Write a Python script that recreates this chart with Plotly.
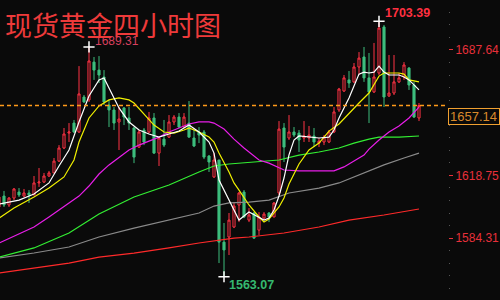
import plotly.graph_objects as go

# ---- data ----
idx = list(range(85))
opens = [1601.4,1607.4,1602.5,1606.3,1609.6,1607.4,1609.1,1608.0,1614.6,1615.1,
         1618.4,1620.1,1626.6,1633.8,1642.0,1647.5,1642.6,1661.8,1660.2,1681.0,
         1676.6,1672.8,1657.4,1654.7,1648.1,1655.8,1650.3,1644.8,1634.3,1643.7,
         1642.6,1650.3,1631.0,1638.7,1639.8,1648.1,1650.8,1645.3,1647.5,1639.3,
         1642.6,1642.6,1629.4,1617.9,1627.2,1582.1,1584.9,1590.4,1602.5,1609.6,
         1594.2,1598.1,1588.7,1595.3,1598.1,1595.9,1609.1,1644.8,1639.3,1642.6,
         1642.0,1639.3,1639.3,1640.4,1636.5,1637.1,1637.1,1642.6,1654.7,1665.1,
         1671.2,1670.1,1678.3,1683.8,1672.3,1664.6,1675.0,1700.3,1662.4,1664.0,
         1670.1,1672.8,1677.7,1668.4,1650.3]
highs = [1608.0,1610.2,1606.9,1611.8,1611.8,1611.3,1610.7,1618.4,1622.8,1620.1,
         1621.2,1628.3,1635.4,1644.8,1647.5,1649.2,1678.8,1662.9,1689.31,1683.8,
         1684.3,1676.6,1660.2,1656.3,1656.3,1656.3,1656.3,1645.3,1643.7,1644.8,
         1653.6,1653.0,1639.8,1649.2,1651.9,1651.9,1653.0,1653.0,1659.6,1643.7,
         1645.3,1643.7,1629.9,1631.0,1627.2,1592.6,1598.1,1604.1,1609.6,1610.7,
         1600.8,1598.6,1598.6,1598.6,1598.6,1604.1,1648.6,1647.5,1651.9,1645.3,
         1643.7,1648.6,1645.9,1644.8,1639.3,1640.9,1643.7,1656.3,1666.8,1673.9,
         1676.1,1680.5,1686.5,1689.3,1686.0,1691.5,1703.39,1701.4,1684.9,1684.9,
         1675.0,1681.0,1678.3,1670.1,1658.5]
lows = [1600.8,1601.4,1601.4,1605.2,1606.9,1606.9,1603.6,1608.0,1612.4,1614.6,
        1617.9,1620.1,1626.1,1633.2,1637.1,1642.0,1642.0,1658.5,1659.1,1671.2,
        1669.5,1657.4,1645.3,1643.7,1632.7,1646.4,1643.7,1625.5,1633.8,1635.4,
        1642.0,1630.5,1623.9,1634.3,1639.3,1646.4,1644.8,1644.8,1639.3,1634.3,
        1636.5,1627.7,1620.6,1617.3,1570.6,1563.07,1575.0,1589.8,1593.1,1595.3,
        1593.1,1583.8,1586.0,1594.2,1593.1,1595.9,1608.0,1626.1,1638.2,1639.8,
        1631.6,1637.1,1637.1,1634.3,1634.3,1635.4,1636.5,1642.0,1653.6,1664.6,
        1666.8,1669.5,1673.9,1670.1,1647.5,1664.0,1673.9,1656.3,1661.8,1662.9,
        1669.5,1671.2,1665.7,1650.3,1648.6]
closes = [1606.9,1602.5,1606.3,1611.3,1608.0,1609.1,1608.0,1614.6,1615.1,1618.4,
          1620.1,1626.6,1633.8,1641.5,1642.6,1642.6,1663.5,1659.1,1681.6,1676.6,
          1673.9,1659.1,1654.7,1647.5,1649.7,1650.8,1647.5,1628.8,1642.6,1637.1,
          1650.3,1631.0,1639.3,1635.4,1648.1,1650.8,1645.3,1650.8,1639.8,1634.9,
          1640.9,1628.8,1626.1,1627.2,1582.1,1577.8,1594.2,1601.9,1609.1,1595.9,
          1597.0,1584.3,1595.9,1597.5,1595.9,1603.6,1644.2,1634.3,1642.6,1640.9,
          1638.2,1640.4,1640.9,1637.1,1637.6,1639.8,1642.6,1653.6,1666.2,1672.3,
          1669.5,1678.3,1683.2,1672.3,1664.6,1672.8,1699.7,1661.8,1664.0,1670.1,
          1672.3,1679.4,1668.4,1650.8,1657.14]

ma_white_x = [0,4,7,10,12,14,16,18,20,21,22,24,26,28,30,32,34,36,38,40,42,43,44,46,48,50,52,53,54,55,56,57,58,59,60,62,64,66,67,68,69,70,71,72,73,74,75,76,77,78,80,81,82,84]
ma_white_y = [1603.0,1605.2,1608.5,1614.6,1623.9,1632.7,1648.1,1662.4,1671.2,1672.3,1666.7,1655.8,1648.1,1643.7,1641.5,1639.8,1641.5,1643.1,1646.4,1642.6,1637.1,1631.0,1616.2,1605.2,1594.2,1598.6,1595.9,1594.2,1595.3,1599.7,1607.4,1617.3,1630.0,1638.2,1640.4,1639.8,1639.3,1639.8,1643.7,1650.3,1655.8,1661.3,1667.8,1674.4,1675.5,1675.0,1675.5,1678.8,1675.5,1673.9,1673.9,1672.8,1671.2,1665.7]

ma_yellow_x = [0,3,7,10,13,15,16,18,20,22,24,26,27,29,31,33,35,37,38,40,42,43,44,46,47,48,50,52,53,54,56,57,58,60,62,64,66,68,70,72,74,76,77,78,80,81,82,84]
ma_yellow_y = [1595.3,1600.8,1606.9,1611.8,1617.9,1627.2,1637.1,1650.3,1656.9,1660.2,1661.3,1660.2,1658.5,1652.5,1646.4,1642.6,1642.0,1643.7,1644.8,1642.6,1639.8,1637.1,1631.0,1620.6,1614.6,1610.7,1602.5,1595.9,1593.1,1594.8,1601.4,1606.3,1614.0,1625.0,1632.7,1636.5,1643.1,1647.0,1653.0,1658.5,1664.0,1673.3,1675.0,1675.0,1675.0,1674.4,1671.2,1670.1]

ma_magenta_x = [0,7,10,14,16,18,20,22,24,26,28,30,32,34,36,38,40,42,43,45,47,49,52,54,57,60,64,67,68,69,71,73,74,76,78,80,82,84]
ma_magenta_y = [1581.6,1590.4,1595.9,1603.6,1607.4,1612.9,1619.5,1624.5,1628.8,1632.7,1635.4,1637.6,1639.8,1642.6,1644.8,1647.0,1648.1,1648.1,1647.5,1644.2,1638.7,1633.8,1627.2,1625.5,1621.7,1621.2,1621.2,1621.2,1622.3,1623.4,1626.6,1629.9,1633.2,1638.2,1642.6,1645.9,1650.3,1656.3]

ma_green_x = [0,7,14,20,27,34,40,43,46,52,56,60,64,68,71,74,76,80,84]
ma_green_y = [1573.9,1578.9,1587.1,1597.5,1606.9,1613.5,1620.6,1623.9,1625.0,1626.1,1627.2,1629.9,1631.6,1633.8,1636.5,1638.7,1639.8,1639.8,1640.4]

ma_gray_x = [0,7,14,20,27,34,40,43,46,50,54,58,64,68,72,77,81,84]
ma_gray_y = [1573.4,1576.1,1579.4,1584.9,1589.8,1594.2,1598.1,1601.9,1603.6,1604.1,1605.2,1609.1,1611.8,1614.6,1619.0,1624.5,1628.3,1631.0]

ma_red_x = [0,7,14,20,27,34,40,47,50,57,64,70,77,84]
ma_red_y = [1565.1,1567.9,1570.6,1573.9,1576.1,1578.9,1581.6,1584.3,1584.9,1587.1,1590.4,1594.2,1597.0,1600.3]

tick_vals = [1584.31, 1618.75, 1687.64]
tick_text = ["1584.31", "1618.75", "1687.64"]
bottom_tick_val = 1549.87
bottom_tick = "1549.87"
last_price = 1657.14
title_text = "现货黄金四小时图"
hi1 = (18, 1689.31)
hi2 = (76, 1703.39)
lo1 = (45, 1563.07)

BG = "#0a0a0a"
UP = "#ff3344"
DOWN = "#3dbd7d"
AXRED = "#e8303a"
FONT = "Liberation Sans, Arial, sans-serif"

fig = go.Figure()

for xs, ys, col in [
    (ma_red_x, ma_red_y, "#ff2a2a"),
    (ma_gray_x, ma_gray_y, "#8a8a8a"),
    (ma_green_x, ma_green_y, "#33ee33"),
    (ma_magenta_x, ma_magenta_y, "#e81ee8"),
    (ma_yellow_x, ma_yellow_y, "#f0f000"),
    (ma_white_x, ma_white_y, "#ffffff"),
]:
    fig.add_trace(go.Scatter(x=xs, y=ys, mode="lines",
                             line=dict(color=col, width=1.2), hoverinfo="skip"))

fig.add_trace(go.Candlestick(
    x=idx, open=opens, high=highs, low=lows, close=closes,
    increasing=dict(line=dict(color=UP, width=1), fillcolor=BG),
    decreasing=dict(line=dict(color=DOWN, width=1), fillcolor=DOWN),
    whiskerwidth=0, hoverinfo="skip"))

fig.add_trace(go.Scatter(
    x=[hi1[0], hi2[0], lo1[0]], y=[hi1[1], hi2[1], lo1[1]], mode="markers",
    marker=dict(symbol="cross-thin", size=8, line=dict(color="white", width=1.5)),
    hoverinfo="skip"))

# last price dashed line
fig.add_shape(type="line", xref="paper", x0=0, x1=1, yref="y", y0=last_price, y1=last_price,
              line=dict(color="#ff9a1a", width=1.3, dash="4px,3px"))

ann = []
ann.append(dict(text=f"{hi1[1]:.2f}", x=hi1[0], y=hi1[1], xanchor="left", yanchor="middle",
                xshift=4, yshift=6, showarrow=False,
                font=dict(family=FONT, size=12, color="#d8405e")))
ann.append(dict(text=title_text, xref="paper", x=0, xanchor="left", xshift=3,
                yref="paper", y=1, yanchor="top", yshift=-3, showarrow=False,
                font=dict(family="Noto Sans CJK SC", size=27, color="#ee3a3a")))
ann.append(dict(text=f"<b>{hi2[1]:.2f}</b>", x=hi2[0], y=hi2[1], xanchor="left", yanchor="middle",
                xshift=4, yshift=8, showarrow=False,
                font=dict(family=FONT, size=12.5, color="#ff3040")))
ann.append(dict(text=f"<b>{lo1[1]:.2f}</b>", x=lo1[0], y=lo1[1], xanchor="left", yanchor="middle",
                xshift=3, yshift=-8, showarrow=False,
                font=dict(family=FONT, size=12.5, color="#35b870")))
ann.append(dict(text=f"{last_price:.2f}", xref="paper", x=1, xanchor="right", xshift=52,
                yref="y", y=last_price, yanchor="top", yshift=-2, showarrow=False,
                width=48, height=13, align="left", bgcolor=BG, bordercolor="#f0a030",
                borderwidth=1, borderpad=1,
                font=dict(family=FONT, size=13, color="#d9892b")))
ann.append(dict(text=bottom_tick, xref="paper", x=1, xanchor="left", xshift=3,
                yref="y", y=bottom_tick_val, yanchor="middle", showarrow=False,
                font=dict(family=FONT, size=12, color=AXRED)))
fig.update_layout(annotations=ann)

fig.update_layout(
    width=500, height=300, autosize=False,
    margin=dict(l=0, r=52, t=0, b=0),
    paper_bgcolor=BG, plot_bgcolor=BG,
    showlegend=False, boxgap=0.4,
    xaxis=dict(range=[0.2, 89.8], showgrid=False, zeroline=False, showticklabels=False,
               showline=False, ticks="", rangeslider=dict(visible=False), fixedrange=True),
    yaxis=dict(range=[1550.3, 1715.1], side="right", showgrid=False, zeroline=False,
               showline=False, tickmode="array", tickvals=tick_vals, ticktext=tick_text,
               ticks="outside", ticklen=4, tickcolor=AXRED, tickwidth=1,
               tickfont=dict(family=FONT, size=12, color=AXRED),
               minor=dict(tickmode="linear", tick0=1549.87, dtick=6.889, ticks="outside",
                          ticklen=1, tickcolor="#555555"),
               fixedrange=True),
)

fig.write_html("out.html")
